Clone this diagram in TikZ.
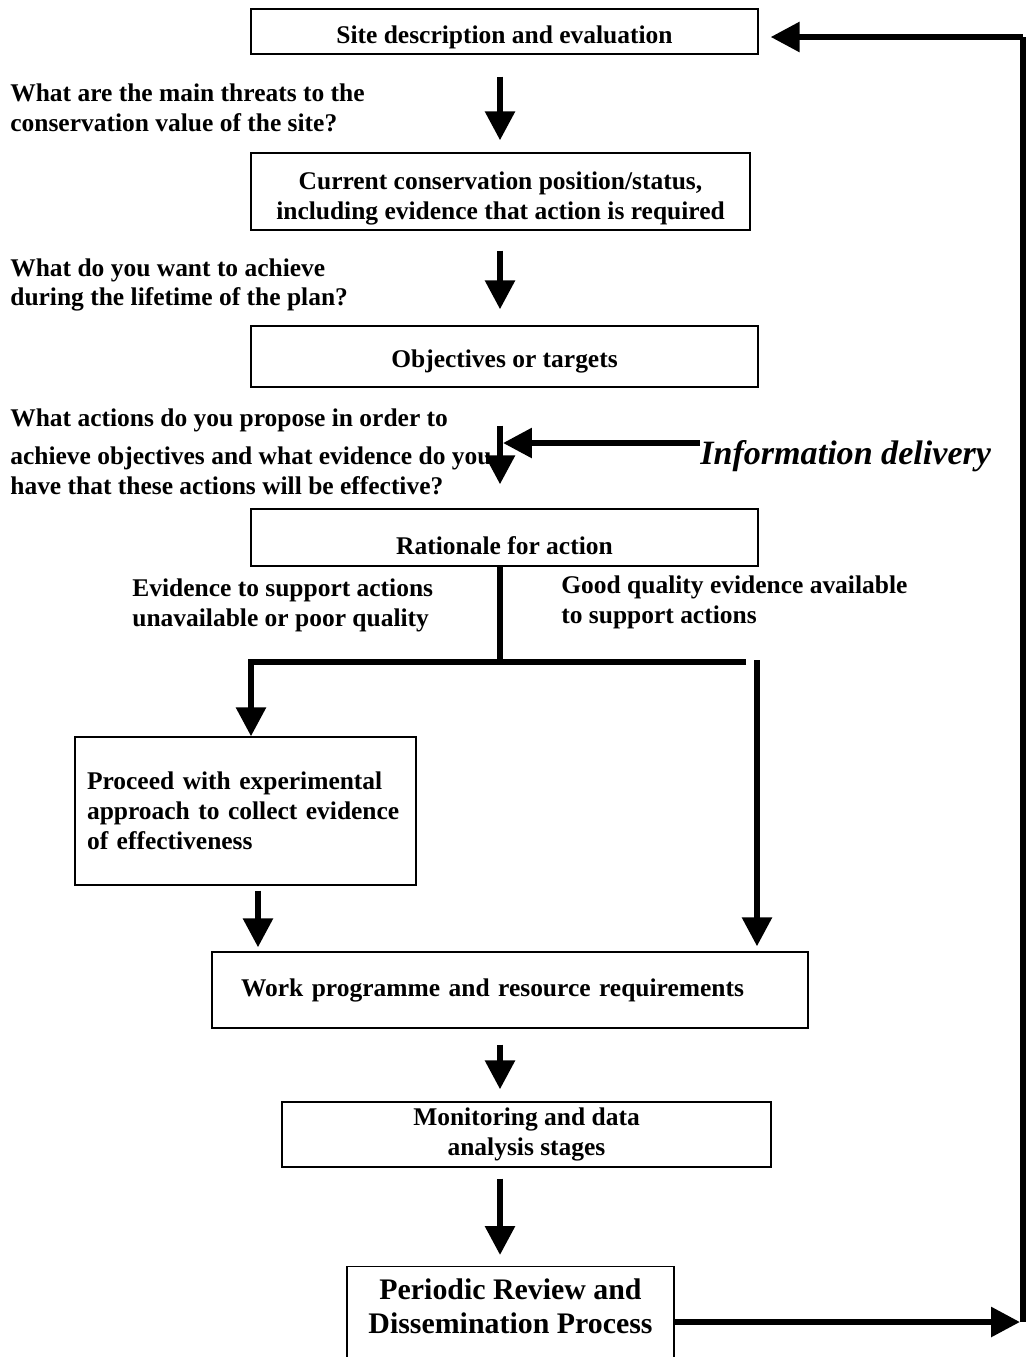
\documentclass[tikz,border=0pt]{standalone}
\usepackage{fontspec}
\setmainfont{Liberation Serif}
\usetikzlibrary{arrows.meta,positioning}

\begin{document}
\begin{tikzpicture}[x=0.02cm,y=-0.02cm,>={Triangle[length=0.58cm,width=0.58cm]},
        box/.style={draw,line width=0.8pt,align=center,inner sep=0pt,font=\fontsize{14.5}{17}\selectfont\bfseries},
        question/.style={anchor=west,align=left,inner sep=0pt,font=\fontsize{14.5}{17}\selectfont\bfseries},
        flow/.style={line width=3.4pt}]
        \useasboundingbox (0,0) rectangle (1028,1357);

        \node[box,minimum width=10.14cm,minimum height=0.9cm,text height=16.6pt,text depth=3.1pt] (site) at (504.5,31.5) {Site description and evaluation};
        \node[box,minimum width=9.98cm,minimum height=1.54cm,text height=34.8pt,text depth=3.1pt] (cur) at (500.5,191.5) {Current conservation position/status,\\including evidence that action is required};
        \node[box,minimum width=10.14cm,minimum height=1.22cm,text height=15.5pt,text depth=3.1pt] (obj) at (504.5,356.5) {Objectives or targets};
        \node[box,minimum width=10.14cm,minimum height=1.14cm,text height=18.9pt,text depth=0pt] (rat) at (504.5,537.5) {Rationale for action};
        \node[box,align=left,text width=6.34cm,inner xsep=0.24cm,minimum height=2.96cm] (proc) at (245.5,811) {Proceed with experimental\\approach to collect evidence\\of effectiveness};
        \node[box,align=left,text width=10.76cm,inner xsep=0.58cm,minimum height=1.52cm] (work) at (510,990) {Work programme and resource requirements};
        \node[box,minimum width=9.78cm,minimum height=1.3cm] (mon) at (526.5,1134.5) {Monitoring and data\\analysis stages};
        \node[box,anchor=north,minimum width=6.54cm,inner ysep=0.24cm,text depth=1.4cm,font=\fontsize{17}{19.5}\selectfont\bfseries] (rev) at (510.5,1266) {Periodic Review and\\Dissemination Process};

        \node[question] (q1) at (10,108) {What are the main threats to the\\conservation value of the site?};
        \node[question] (q2) at (10,285) {What do you want to achieve\\during the lifetime of the plan?};
        \node[question] (q3) at (10,452) {What actions do you propose in order to\\[4.5pt]achieve objectives and what evidence do you\\have that these actions will be effective?};
        \node[question] (ev1) at (132,605) {Evidence to support actions\\unavailable or poor quality};
        \node[question] (ev2) at (561,602) {Good quality evidence available\\to support actions};
        \node[question,font=\fontsize{19.4}{22}\selectfont\bfseries\itshape] (info) at (700,456) {Information delivery};

        \coordinate (split) at (500,662);
        \coordinate (act) at (503,443);
        \coordinate (gqend) at (746,662);
        \coordinate (gqtop) at (757,660);
        \coordinate (looptop) at (1023,37);
        \coordinate (loopbot) at (1023,1322);

        \draw[flow,->,shorten <=0.44cm,shorten >=0.24cm] (split |- site.south) -- (split |- cur.north);
        \draw[flow,->,shorten <=0.4cm,shorten >=0.32cm] (split |- cur.south) -- (split |- obj.north);
        \draw[flow,->,shorten <=0.76cm,shorten >=0.48cm] (split |- obj.south) -- (split |- rat.north);
        \draw[flow,->] (act -| info.west) -- (act);

        \draw[flow] (split |- rat.south) -- (split);
        \draw[flow,->] (gqend) -- (split) -| ([xshift=0.11cm]proc.north);
        \draw[flow,->,shorten >=0.1cm] (gqtop) -- (gqtop |- work.north);
        \draw[flow,->,shorten <=0.1cm,shorten >=0.08cm] ([xshift=0.25cm]proc.south) -- ([xshift=0.25cm]proc.south |- work.north);
        \draw[flow,->,shorten <=0.32cm,shorten >=0.24cm] (split |- work.south) -- (split |- mon.north);
        \draw[flow,->,shorten <=0.22cm,shorten >=0.22cm] (split |- mon.south) -- (split |- rev.north);

        \draw[flow,->,shorten >=0.06cm] (loopbot -| rev.east) -- (loopbot);
        \draw[flow] (loopbot) -- (looptop);
        \draw[flow,->,shorten >=0.24cm] (looptop) -- (looptop -| site.east);
    \end{tikzpicture}
\end{document}
